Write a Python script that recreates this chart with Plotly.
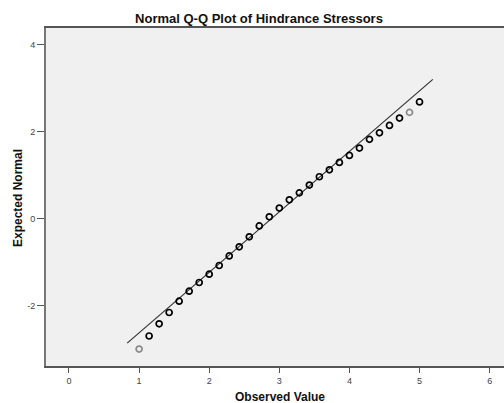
import plotly.graph_objects as go

# Data
observed = [1 + k / 7 for k in range(29)]
expected = [-3.00, -2.70, -2.42, -2.16, -1.90, -1.67, -1.47, -1.28, -1.08, -0.86,
            -0.65, -0.42, -0.17, 0.04, 0.24, 0.43, 0.59, 0.77, 0.96, 1.12,
            1.29, 1.45, 1.62, 1.82, 1.97, 2.14, 2.31, 2.44, 2.68]
marker_colors = ["#8a8a8a"] + ["#000000"] * 26 + ["#8a8a8a", "#000000"]
ref_mean = 2.89
ref_sd = 0.719
line_x = [0.83, 5.19]
line_y = [(v - ref_mean) / ref_sd for v in line_x]
x_ticks = [0, 1, 2, 3, 4, 5, 6]
y_ticks = [-2, 0, 2, 4]
y_tick_text = ["-2", "0", "2", "4"]

fig = go.Figure()
fig.add_trace(go.Scatter(x=line_x, y=line_y, mode="lines",
                         line=dict(color="#333333", width=1.2), hoverinfo="skip"))
fig.add_trace(go.Scatter(x=observed, y=expected, mode="markers",
                         marker=dict(symbol="circle-open", size=6,
                                     color=marker_colors,
                                     line=dict(width=1.7, color=marker_colors))))

fig.update_layout(
    width=504, height=403,
    margin=dict(l=46, r=0, t=28, b=37),
    paper_bgcolor="white", plot_bgcolor="#f0f0f0",
    showlegend=False,
    font=dict(family="Arial, Liberation Sans, sans-serif", color="#222"),
    title=dict(text="<b>Normal Q-Q Plot of Hindrance Stressors</b>",
               x=259 / 504, xanchor="center", y=1 - 18 / 403, yanchor="middle",
               font=dict(size=13, color="#111")),
    xaxis=dict(range=[-0.328, 6.205], tickvals=x_ticks, showgrid=False,
               zeroline=False, showline=True, linecolor="#555", linewidth=1.6,
               mirror=True, ticks="outside", ticklen=5, tickcolor="#555",
               tickfont=dict(size=9, color="#444")),
    yaxis=dict(range=[-3.39, 4.38], tickvals=y_ticks, ticktext=y_tick_text,
               showgrid=False,
               zeroline=False, showline=True, linecolor="#777", linewidth=2,
               ticks="outside", ticklen=7, tickcolor="#555",
               tickfont=dict(size=9, color="#444")),
    annotations=[
        dict(text="<b>Observed Value</b>", xref="paper", yref="paper",
             x=(280 - 46) / 458, y=0, yshift=-31, xanchor="center",
             yanchor="middle", showarrow=False,
             font=dict(size=12, color="#111")),
        dict(text="<b>Expected Normal</b>", xref="paper", yref="paper",
             x=0, xshift=-28, y=(366 - 198) / 338, textangle=-90,
             xanchor="center", yanchor="middle", showarrow=False,
             font=dict(size=12, color="#111")),
    ],
)

fig.write_html("out.html",
               config={"displayModeBar": False},
               post_script="document.body.style.margin='0';"
                           "document.body.style.overflow='hidden';")
